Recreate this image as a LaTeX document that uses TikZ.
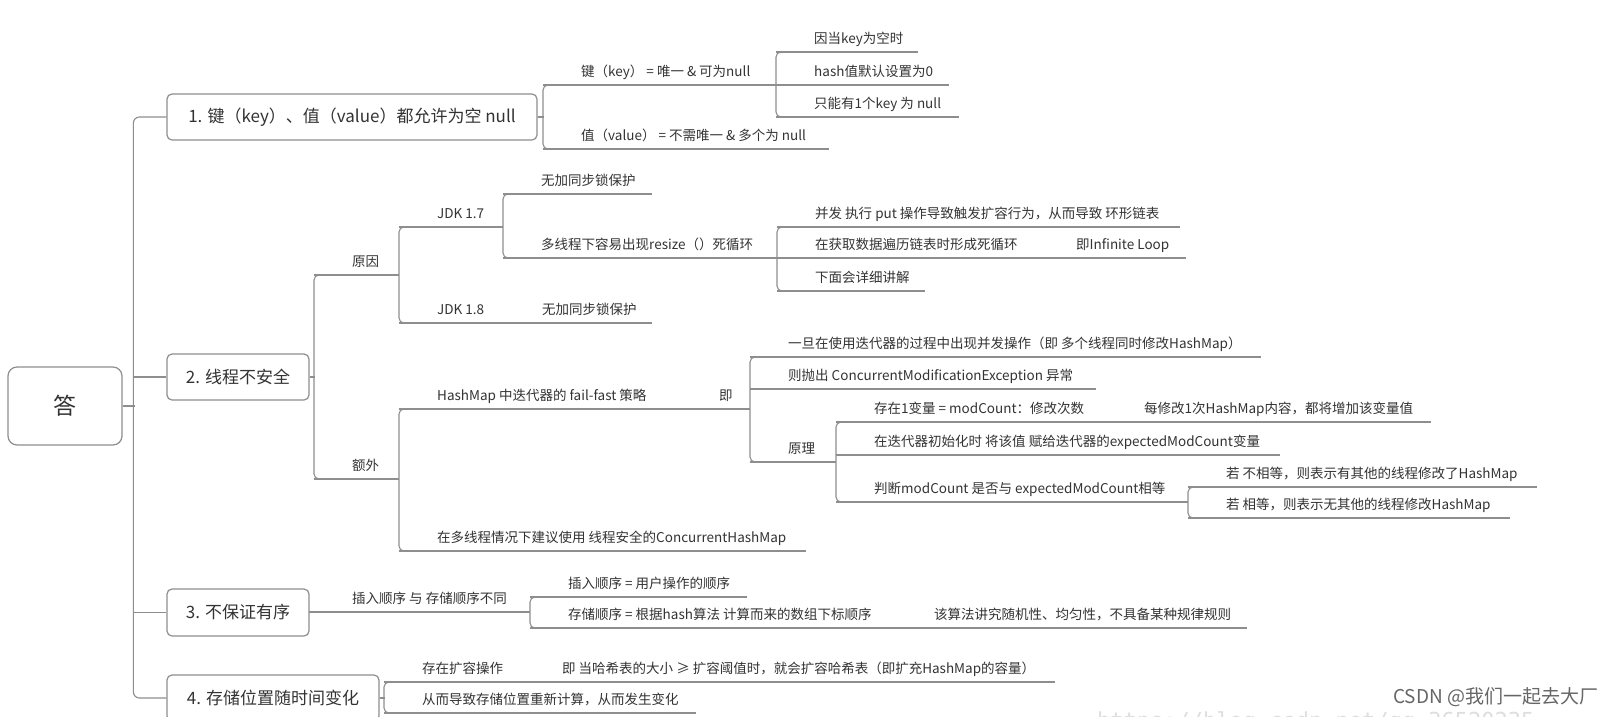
\documentclass[tikz,border=0pt]{standalone}
\usepackage{fontspec}
\setmainfont{Noto Sans CJK SC}
\newfontfamily\wmmono{DejaVu Sans Mono}
\definecolor{lncol}{HTML}{8E8E8E}
\definecolor{txtcol}{HTML}{333333}
\tikzset{
  ln/.style={draw=lncol, line width=1.1pt},
  txt/.style={anchor=base west, inner sep=0pt, text=txtcol, font=\fontsize{13.5}{16}\selectfont},
  mainbox/.style={draw=lncol, line width=1.2pt, rounded corners=5pt, fill=white, text=txtcol, font=\fontsize{17}{20}\selectfont, inner sep=0pt},
}
% #1 name, #2 line start x, #3 line end x, #4 line y, #5 text
\newcommand{\mmtopic}[5]{%
  \coordinate (#1-s) at (#2,#4);
  \coordinate (#1-e) at (#3,#4);
  \draw[ln] (#1-s) -- (#1-e);
  \node[txt] (#1) at (#2+38,#4-9) {#5};
}
\newcommand{\mmbracket}[2]{%
  \draw[ln, rounded corners=5pt] ([xshift=20pt]#1-s) -- (#1-s) -- (#2-s) -- ([xshift=20pt]#2-s);
}
\begin{document}
\begin{tikzpicture}[x=1pt,y=-1pt]
\useasboundingbox (0,0) rectangle (1619,716);
\fill[white] (0,0) rectangle (1619,716);

% faint watermark url
\node[anchor=base west, inner sep=0pt, text=black!13, font=\wmmono\fontsize{22}{24}\selectfont] (wmurl) at (1097,728) {https://blog.csdn.net/qq\_36520235};

% main boxes
\node[mainbox, minimum width=114pt, minimum height=78pt, rounded corners=9pt, font=\fontsize{23}{26}\selectfont] (ans) at (65,406) {答};
\node[mainbox, minimum width=370pt, minimum height=46pt] (b1) at (352,117) {1. 键（key）、值（value）都允许为空 null};
\node[mainbox, minimum width=142pt, minimum height=46pt] (b2) at (238,377) {2. 线程不安全};
\node[mainbox, minimum width=142pt, minimum height=47pt] (b3) at (238,612.5) {3. 不保证有序};
\node[mainbox, minimum width=212pt, minimum height=46pt] (b4) at (273,698) {4. 存储位置随时间变化};

% trunk
\draw[ln, rounded corners=6pt] (b1.west) -- ++(-33,0) |- (b4.west);
\draw[ln] (b2.west) -- ++(-33,0);
\draw[ln] (b3.west) -- ++(-33,0);
\draw[ln] (ans.east) -- ++(12,0);

% ---- box 1
\draw[ln] (b1.east) -- ++(6,0);
\mmtopic{ka}{543}{776}{85}{键（key） = 唯一 \& 可为null}
\mmtopic{kb}{543}{829}{149}{值（value） = 不需唯一 \& 多个为 null}
\mmbracket{ka}{kb}
\mmtopic{kaa}{776}{918}{52}{因当key为空时}
\mmtopic{kab}{776}{949}{85}{hash值默认设置为0}
\mmtopic{kac}{776}{959}{117}{只能有1个key 为 null}
\mmbracket{kaa}{kac}

% ---- box 2
\draw[ln] (b2.east) -- ++(5,0);
\mmtopic{reason}{314}{399}{275}{原因}
\mmtopic{extra}{314}{399}{479}{额外}
\mmbracket{reason}{extra}
\mmtopic{jdkseven}{399}{503}{227}{JDK 1.7}
\mmtopic{jdkeight}{399}{652}{323}{JDK 1.8}
\node[txt] (jdkeightc) at (542,314) {无加同步锁保护};
\mmbracket{jdkseven}{jdkeight}
\mmtopic{jsa}{503}{652}{194}{无加同步锁保护}
\mmtopic{jsb}{503}{777}{258}{多线程下容易出现resize（）死循环}
\mmbracket{jsa}{jsb}
\mmtopic{rsa}{777}{1180}{227}{并发 执行 put 操作导致触发扩容行为，从而导致 环形链表}
\mmtopic{rsb}{777}{1186}{258}{在获取数据遍历链表时形成死循环}
\node[txt] (rsbc) at (1076,249) {即Infinite Loop};
\mmtopic{rsc}{777}{925}{291}{下面会详细讲解}
\mmbracket{rsa}{rsc}

\mmtopic{fa}{399}{750}{409}{HashMap 中迭代器的 fail-fast 策略}
\node[txt] (fab) at (719,400) {即};
\mmtopic{fb}{399}{806}{551}{在多线程情况下建议使用 线程安全的ConcurrentHashMap}
\mmbracket{fa}{fb}
\mmtopic{ga}{750}{1261}{357}{一旦在使用迭代器的过程中出现并发操作（即 多个线程同时修改HashMap）}
\mmtopic{gb}{750}{1096}{389}{则抛出 ConcurrentModificationException 异常}
\mmtopic{gc}{750}{836}{462}{原理}
\mmbracket{ga}{gc}
\mmtopic{ha}{836}{1431}{422}{存在1变量 = modCount：修改次数}
\node[txt] (hab) at (1144,413) {每修改1次HashMap内容，都将增加该变量值};
\mmtopic{hb}{836}{1280}{455}{在迭代器初始化时 将该值 赋给迭代器的expectedModCount变量}
\mmtopic{hc}{836}{1188}{502}{判断modCount 是否与 expectedModCount相等}
\mmbracket{ha}{hc}
\mmtopic{ia}{1188}{1537}{487}{若 不相等，则表示有其他的线程修改了HashMap}
\mmtopic{ib}{1188}{1510}{518}{若 相等，则表示无其他的线程修改HashMap}
\mmbracket{ia}{ib}

% ---- box 3
\mmtopic{sa}{309}{530}{612}{\hspace{5pt}插入顺序 与 存储顺序不同}
\mmtopic{saa}{530}{747}{597}{插入顺序 = 用户操作的顺序}
\mmtopic{sab}{530}{1247}{628}{存储顺序 = 根据hash算法 计算而来的数组下标顺序}
\node[txt] (sabc) at (934,619) {该算法讲究随机性、均匀性，不具备某种规律规则};
\mmbracket{saa}{sab}

% ---- box 4
\draw[ln] (b4.east) -- ++(5,0);
\mmtopic{ta}{384}{1055}{682}{存在扩容操作}
\node[txt] (tab) at (562,673) {即 当哈希表的大小 ≥ 扩容阈值时，就会扩容哈希表（即扩充HashMap的容量）};
\mmtopic{tb}{384}{696}{713}{从而导致存储位置重新计算，从而发生变化}
\mmbracket{ta}{tb}

% watermark
\node[anchor=base west, inner sep=0pt, text=black!60, font=\fontsize{19}{22}\selectfont] (wm) at (1393,703) {CSDN @我们一起去大厂};
\end{tikzpicture}
\end{document}
